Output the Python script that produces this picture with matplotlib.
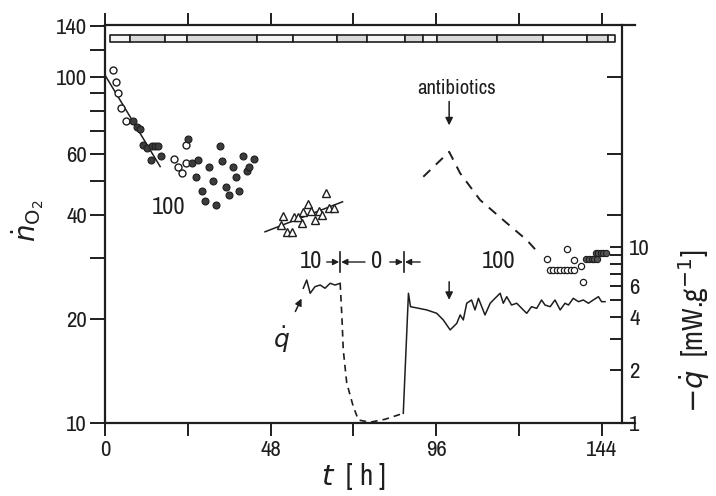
import matplotlib.pyplot as plt
from matplotlib import font_manager
from matplotlib.ticker import NullFormatter

# pick a narrow sans face if one is installed (the original uses a DIN-like condensed face)
fonts = font_manager.fontManager.ttflist
narrow = [f for f in fonts if ('Narrow' in f.name or 'Condensed' in f.name) and f.style == 'normal']
cond = [f for f in fonts if str(f.stretch) in ('condensed', 'semi-condensed', '400', '500')
        and f.style == 'normal']
if narrow:
    plt.rcParams['font.family'] = [narrow[0].name, 'DejaVu Sans']
    fs_scale = 1.1
elif cond:
    plt.rcParams['font.family'] = [cond[0].name, 'DejaVu Sans']
    plt.rcParams['font.stretch'] = 'condensed'
    fs_scale = 1.1
else:
    plt.rcParams['font.family'] = ['DejaVu Sans']
    fs_scale = 1.0
plt.rcParams['mathtext.fontset'] = 'dejavusans'

ink = '#1e1e1e'

# --- oxygen uptake, first phase (dilution 100) ---
t_open1 = [2.2, 3.2, 3.9, 4.6, 6.0, 20.1, 21.1, 22.2, 23.4, 23.4]
n_open1 = [104.8, 96.5, 89.7, 81.5, 74.5, 58.1, 55.1, 52.7, 56.3, 63.6]
t_fill1 = [8.2, 9.2, 10.2, 11.1, 12.3, 13.5, 14.5, 15.5, 13.3, 16.1, 24.2, 25.1, 26.9,
           26.4, 28.2, 29.0, 30.3, 31.2, 32.2, 33.3, 34.0, 35.1, 36.1, 37.2, 38.0,
           38.9, 40.1, 41.3, 41.8, 43.2]
n_fill1 = [74.4, 71.8, 71.0, 63.6, 62.2, 63.2, 63.2, 63.2, 57.5, 59.1, 66.2, 56.3, 57.5,
           51.4, 46.9, 43.9, 54.8, 50.0, 42.7, 63.4, 57.2, 48.0, 45.7, 55.1, 51.5,
           46.8, 59.3, 53.5, 54.8, 58.0]
fit1_t = [0.0, 16.0]
fit1_n = [101.3, 55.1]

# --- second phase (dilution 10), triangles ---
t_tri = [51.0, 51.7, 52.7, 54.1, 54.9, 55.9, 57.0, 57.5, 58.8, 59.8, 60.9, 62.1,
         62.9, 64.1, 65.1, 66.4]
n_tri = [37.4, 39.7, 35.6, 35.6, 39.5, 39.5, 37.8, 40.6, 42.9, 40.9, 38.6, 40.9,
         39.9, 46.1, 41.7, 41.7]
fit2_t = [46.4, 68.9]
fit2_n = [35.7, 43.6]

# --- estimated n after restart (dashed) ---
dash_n_t = [92.3, 99.8, 103.0, 108.8, 115.5, 122.3, 125.6]
dash_n = [51.5, 60.8, 52.7, 44.1, 38.6, 33.8, 31.1]

# --- last phase (dilution 100) ---
t_open3 = [128.1, 134.1, 136.0, 138.0, 138.7, 129.0, 130.0, 131.0, 132.0, 133.0,
           134.0, 135.0, 136.0]
n_open3 = [29.7, 31.8, 29.6, 28.5, 25.5, 27.6, 27.6, 27.6, 27.6, 27.6,
           27.6, 27.6, 27.6]
t_fill3 = [139.5, 140.3, 141.1, 141.9, 142.6, 142.4, 143.1, 143.8, 144.5, 145.3]
n_fill3 = [29.7, 29.7, 29.7, 29.7, 29.7, 31.1, 31.1, 31.1, 31.1, 31.1]

# --- heat flux -q ---
q1_t = [57.5, 58.5, 59.5, 60.9, 62.4, 63.8, 65.3, 66.7, 68.2]
q1 = [5.83, 6.49, 5.46, 5.95, 6.08, 5.83, 6.22, 6.08, 6.22]
qd_t = [68.2, 68.7, 69.1, 70.1, 72.0, 73.5, 76.8, 81.2, 86.5]
qd = [6.22, 4.02, 2.6, 1.69, 1.24, 1.04, 1.01, 1.05, 1.135]
q2_t = [86.5, 88.0, 88.6, 93.3, 96.2, 98.1, 100.1, 102.0, 103.0, 103.9, 104.9, 106.3,
        107.3, 108.3, 110.2, 111.7, 113.1, 114.6, 115.5, 116.5, 117.9, 119.4, 121.3,
        122.3, 123.7, 125.2, 126.6, 127.6, 129.1, 130.5, 132.0, 133.4, 134.4, 135.8,
        137.3, 138.7, 140.2, 141.6, 143.1, 144.0, 145.0]
q2 = [1.135, 5.46, 4.58, 4.39, 4.20, 3.85, 3.38, 3.68, 4.11, 3.85, 4.79, 5.00,
      4.39, 5.11, 4.11, 4.79, 5.11, 5.46, 4.79, 5.22, 4.68, 4.79, 4.39,
      4.20, 4.58, 4.48, 5.00, 4.68, 4.58, 5.00, 4.39, 4.79, 4.68, 5.11,
      4.89, 5.00, 4.79, 5.00, 5.22, 4.89, 4.89]

# --- segmented strip at the top ---
strip_edges = [1.45, 7.3, 17.4, 23.7, 44.0, 54.6, 67.2, 75.9, 87.0, 92.3, 96.2,
               113.6, 127.1, 139.7, 145.9, 147.9]
strip_shade = ['#f4f4f4', '#d8d8d8', '#f4f4f4', '#d8d8d8', '#f4f4f4', '#f4f4f4',
               '#d8d8d8', '#f4f4f4', '#d8d8d8', '#f4f4f4', '#d8d8d8', '#d8d8d8',
               '#f4f4f4', '#d8d8d8', '#f4f4f4']

fs_tick = 15 * fs_scale
fs_note = 16 * fs_scale

fig = plt.figure(figsize=(7.16, 4.96), dpi=100)
ax = fig.add_axes([105/716, 73/496, 530/716, 398/496])
ax.set_yscale('log')
ax.set_xlim(0, 153.7)
ax.set_ylim(10, 141.4)

ax.plot(fit1_t, fit1_n, color=ink, lw=1.1)
ax.plot(fit2_t, fit2_n, color=ink, lw=1.1)
ax.plot(t_open1, n_open1, 'o', ms=5, mfc='white', mec=ink, mew=1.0)
ax.plot(t_fill1, n_fill1, 'o', ms=5, mfc='#3c3c3c', mec=ink, mew=0.8)
ax.plot(t_tri, n_tri, '^', ms=6, mfc='white', mec=ink, mew=1.0)
ax.plot(dash_n_t, dash_n, color=ink, lw=1.4, dashes=(5, 4))
ax.plot(t_open3, n_open3, 'o', ms=4.5, mfc='white', mec=ink, mew=0.9)
ax.plot(t_fill3, n_fill3, 'o', ms=4.5, mfc='#555555', mec=ink, mew=0.8)

xr = [(a, b - a) for a, b in zip(strip_edges[:-1], strip_edges[1:])]
ax.broken_barh(xr, (126.3, 5.9), facecolors=strip_shade, edgecolor=ink, lw=1.2)

ax.set_xticks([0, 24, 48, 72, 96, 120, 144], labels=['0', '', '48', '', '96', '', '144'])
ax.set_yticks([10, 20, 40, 60, 100, 140], labels=['10', '20', '40', '60', '100', '140'])
ax.set_yticks([30, 50, 70, 80, 90, 120], minor=True)
ax.yaxis.set_minor_formatter(NullFormatter())
ax.tick_params(axis='both', which='both', labelsize=fs_tick, colors=ink, width=1.4)
ax.tick_params(axis='y', which='both', length=11, pad=2)
ax.tick_params(axis='x', length=9, top=True, pad=3)
for s in ['left', 'bottom', 'top']:
    ax.spines[s].set_linewidth(1.6)
    ax.spines[s].set_color(ink)
ax.spines['right'].set_visible(False)

# right axis: heat flux
ax2 = ax.twinx()
ax2.set_yscale('log')
ax2.set_ylim(1, 182.5)
ax2.plot(q1_t, q1, color=ink, lw=1.1)
ax2.plot(qd_t, qd, color=ink, lw=1.2, dashes=(4, 3))
ax2.plot(q2_t, q2, color=ink, lw=1.1)
ax2.spines['right'].set_position(('data', 150))
ax2.spines['right'].set_linewidth(1.6)
ax2.spines['right'].set_color(ink)
for s in ['left', 'bottom', 'top']:
    ax2.spines[s].set_visible(False)
ax2.set_yticks([1, 2, 4, 6, 10], labels=['1', '2', '4', '6', '10'])
ax2.set_yticks([3, 5, 7, 8, 9], minor=True)
ax2.yaxis.set_minor_formatter(NullFormatter())
ax2.tick_params(axis='y', which='both', direction='in', length=9, width=1.4,
                labelsize=fs_tick, colors=ink, pad=5)

# mirrored n ticks on the right spine
ax3 = ax.twinx()
ax3.set_yscale('log')
ax3.set_ylim(10, 141.4)
ax3.spines['right'].set_position(('data', 150))
for s in ax3.spines.values():
    s.set_visible(False)
ax3.set_yticks([40, 60, 100], labels=['', '', ''])
ax3.set_yticks([], minor=True)
ax3.tick_params(axis='y', direction='in', length=11, width=1.4, colors=ink)

# annotations
ax.text(18.3, 42.1, '100', fontsize=fs_note, ha='center', va='center', color=ink)
ax.text(114.1, 29.2, '100', fontsize=fs_note, ha='center', va='center', color=ink)
ax.text(59.8, 29.2, '10', fontsize=fs_note, ha='center', va='center', color=ink)
ax.text(78.9, 29.2, '0', fontsize=fs_note, ha='center', va='center', color=ink)
for xb in [68.2, 86.7]:
    ax.plot([xb, xb], [27.3, 31.2], color=ink, lw=1.2)
arr = dict(arrowstyle='-|>', color=ink, lw=1.0, mutation_scale=9, shrinkA=0, shrinkB=0)
for x0, x1 in [(64.3, 67.9), (75.4, 68.5), (82.6, 86.4), (91.4, 87.0)]:
    ax.annotate('', xy=(x1, 29.2), xytext=(x0, 29.2), arrowprops=arr)

ax.text(102.0, 87.2, 'antibiotics', fontsize=13.5 * fs_scale, ha='center', va='bottom',
        color=ink)
ax.annotate('', xy=(99.8, 72.5), xytext=(99.8, 85.0),
            arrowprops=dict(arrowstyle='-|>', color=ink, lw=1.1, mutation_scale=11,
                            shrinkA=0, shrinkB=0))
ax.annotate('', xy=(99.8, 22.7), xytext=(99.8, 25.6),
            arrowprops=dict(arrowstyle='-|>', color=ink, lw=1.1, mutation_scale=11,
                            shrinkA=0, shrinkB=0))
ax.annotate(r'$\dot{q}$', xy=(57.0, 22.9), xytext=(51.3, 17.4), fontsize=18,
            ha='center', va='center', color=ink,
            arrowprops=dict(arrowstyle='-|>', color=ink, lw=1.1, mutation_scale=10,
                            shrinkA=8, shrinkB=0))

fig.text(28/716, 1 - 221/496, r'$\dot{n}_{\mathrm{O_2}}$', rotation=90, fontsize=20,
         ha='center', va='center', color=ink)
fig.text(354/716, 1 - 477/496, r'$t$  [ h ]', fontsize=21, ha='center', va='center',
         color=ink)
fig.text(694/716, 1 - 331/496, r'$-\dot{q}$  [mW.g$^{-1}$]', rotation=90, fontsize=21,
         ha='center', va='center', color=ink)

fig.savefig('out.png', dpi=100)
